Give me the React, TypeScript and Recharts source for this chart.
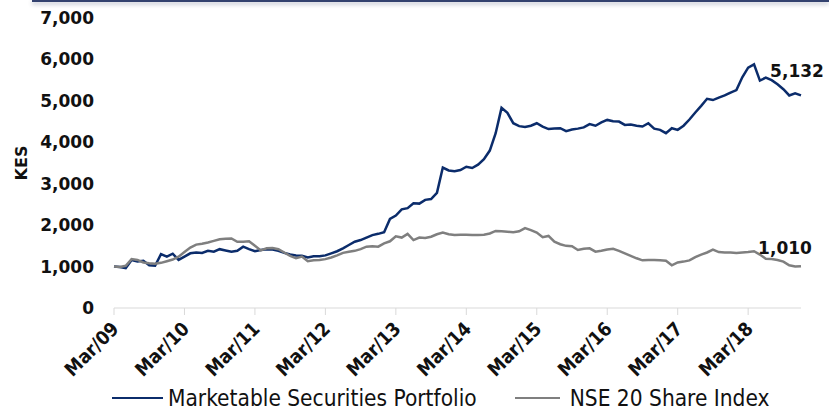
import React from 'react';
import { LineChart, Line, XAxis, YAxis, Legend, LabelList } from 'recharts';

const MONTH_NAMES = ['Jan', 'Feb', 'Mar', 'Apr', 'May', 'Jun', 'Jul', 'Aug', 'Sep', 'Oct', 'Nov', 'Dec'];

// monthly, Mar/09 .. Dec/18
const portfolio = [
  1000, 990, 960, 1160, 1120, 1140, 1030, 1020, 1300, 1240, 1310, 1160,
  1240, 1320, 1340, 1330, 1380, 1360, 1420, 1390, 1360, 1380, 1480, 1420,
  1370, 1400, 1420, 1410, 1380, 1330, 1290, 1270, 1260, 1220, 1250, 1250,
  1270, 1320, 1370, 1440, 1520, 1600, 1640, 1700, 1760, 1790, 1830, 2150,
  2230, 2380, 2410, 2530, 2520, 2610, 2630, 2780, 3390, 3320, 3300, 3330,
  3410, 3380, 3460, 3590, 3800, 4220, 4830, 4710, 4460, 4390, 4370, 4400,
  4460, 4380, 4320, 4330, 4340, 4270, 4310, 4330, 4360, 4440, 4400, 4480,
  4540, 4510, 4500, 4420, 4430, 4400, 4380, 4460, 4330, 4300, 4220, 4340,
  4300, 4400, 4550, 4720, 4880, 5050, 5020, 5080, 5130, 5200, 5260, 5570,
  5800, 5880, 5490, 5560, 5500, 5400, 5280, 5130, 5180, 5132,
];

const nse20 = [
  1000, 990, 1020, 1180, 1160, 1100, 1080, 1070, 1090, 1130, 1170, 1240,
  1350, 1460, 1530, 1550, 1580, 1620, 1660, 1670, 1680, 1600, 1600, 1610,
  1500, 1390, 1440, 1450, 1420, 1340, 1260, 1200, 1240, 1130, 1150, 1160,
  1180, 1220, 1270, 1330, 1360, 1380, 1420, 1480, 1490, 1480, 1560, 1610,
  1730, 1700, 1790, 1640, 1700, 1690, 1720, 1780, 1820, 1780, 1760, 1770,
  1770, 1760, 1760, 1770, 1800, 1860, 1850, 1840, 1830, 1850, 1930, 1880,
  1820, 1710, 1740, 1600, 1540, 1500, 1490, 1400, 1430, 1440, 1360, 1380,
  1410, 1430, 1380, 1320, 1260, 1200, 1150, 1160, 1160, 1150, 1140, 1030,
  1100, 1120, 1150, 1230, 1290, 1340, 1410, 1350, 1340, 1340, 1330, 1340,
  1350, 1370, 1290, 1190, 1180, 1160, 1120, 1030, 1000, 1010,
];

const yTicks = [0, 1000, 2000, 3000, 4000, 5000, 6000, 7000];

const months: string[] = portfolio.map((_, i) => {
  const m = (2 + i) % 12;
  const y = 9 + Math.floor((2 + i) / 12);
  return `${MONTH_NAMES[m]}/${String(y).padStart(2, '0')}`;
});

const data = months.map((month, i) => ({
  month,
  portfolio: portfolio[i],
  nse20: nse20[i],
}));

const NAVY = '#0b2c6b';
const GREY = '#7f7f7f';
const FONT = '"DejaVu Sans", sans-serif';
const LEGEND_FONT = '"DejaVu Sans Condensed", "DejaVu Sans", sans-serif';

const XTick = ({ x, y, payload }: any) => (
  <text
    x={x + 6}
    y={y + 13}
    transform={`rotate(-45, ${x + 6}, ${y + 13})`}
    textAnchor="end"
    fontFamily={LEGEND_FONT}
    fontWeight="bold"
    fontSize={19}
    fill="#111"
  >
    {payload.value}
  </text>
);

const lastLabel = (dx: number, dy: number) => (props: any) => {
  const { x, y, index, value } = props;
  if (index !== data.length - 1) return null;
  return (
    <text
      x={x + dx}
      y={y + dy}
      textAnchor="middle"
      fontFamily={FONT}
      fontWeight="bold"
      fontSize={17}
      fill="#111"
    >
      {Number(value).toLocaleString('en-US')}
    </text>
  );
};

const LegendContent = () => (
  <div style={{ display: 'flex', alignItems: 'center', fontFamily: LEGEND_FONT, fontSize: 22.5, color: '#111', paddingLeft: 112, lineHeight: '24px', height: 24 }}>
    <span style={{ display: 'inline-block', width: 51, height: 2.5, background: NAVY, marginRight: 5 }} />
    <span>Marketable Securities Portfolio</span>
    <span style={{ display: 'inline-block', width: 45, height: 2.5, background: GREY, marginLeft: 38, marginRight: 10 }} />
    <span>NSE 20 Share Index</span>
  </div>
);

export default function App() {
  return (
    <div style={{ position: 'absolute', left: 0, top: 0, width: 829, height: 411, background: '#fff' }}>
      <div style={{ position: 'absolute', left: 32, top: 0, width: 797, height: 2, background: '#33426f', boxShadow: '0 2px 4px rgba(60,70,110,0.45)' }} />
      <LineChart width={829} height={411} data={data} margin={{ top: 18, right: 28, bottom: 0, left: 0 }}>
        <XAxis
          dataKey="month"
          interval={11}
          tick={<XTick />}
          tickSize={7}
          stroke="#d9d9d9"
          height={79}
        />
        <YAxis
          domain={[0, 7000]}
          ticks={yTicks}
          width={114}
          axisLine={false}
          tickLine={false}
          tickSize={0}
          tickMargin={20}
          tickFormatter={(v: number) => v.toLocaleString('en-US')}
          tick={{ fontFamily: FONT, fontWeight: 'bold', fontSize: 17, fill: '#111' }}
          label={{ value: 'KES', angle: -90, position: 'insideLeft', offset: 21, style: { fontFamily: FONT, fontWeight: 'bold', fontSize: 16, fill: '#111', textAnchor: 'middle' } }}
        />
        <Legend verticalAlign="bottom" content={<LegendContent />} wrapperStyle={{ bottom: 1 }} />
        <Line type="linear" dataKey="portfolio" name="Marketable Securities Portfolio" stroke={NAVY} strokeWidth={2.5} dot={false} isAnimationActive={false}>
          <LabelList dataKey="portfolio" content={lastLabel(-4, -18)} />
        </Line>
        <Line type="linear" dataKey="nse20" name="NSE 20 Share Index" stroke={GREY} strokeWidth={2.5} dot={false} isAnimationActive={false}>
          <LabelList dataKey="nse20" content={lastLabel(-16, -12)} />
        </Line>
      </LineChart>
    </div>
  );
}
